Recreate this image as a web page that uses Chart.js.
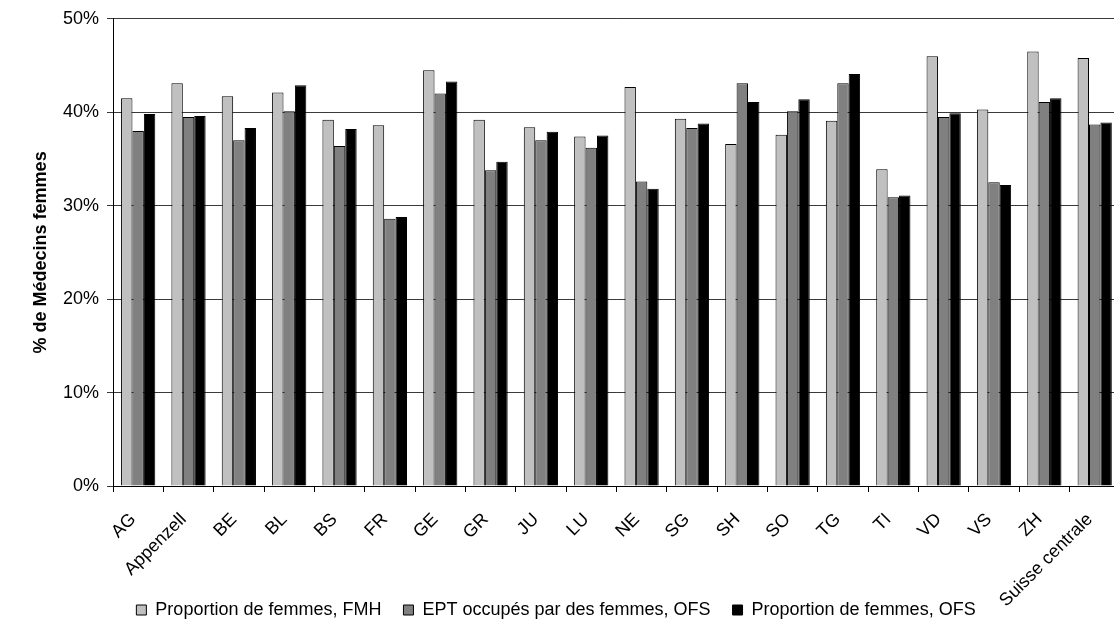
<!DOCTYPE html>
<html lang="fr">
<head>
<meta charset="utf-8">
<title>Médecins femmes par canton</title>
<script src="https://cdn.jsdelivr.net/npm/chart.js@4"></script>
<style>
  html, body { margin: 0; padding: 0; background: #fff; }
  /* the original plot runs a few pixels past the right edge of the picture */
  #wrap { width: 1114px; height: 621px; position: relative; overflow: hidden; }
  #chart { display: block; }
</style>
</head>
<body>
<div id="wrap"><canvas id="chart" width="1127" height="621"></canvas></div>
<script>
  const CANTONS = ["AG", "Appenzell", "BE", "BL", "BS", "FR", "GE", "GR", "JU", "LU",
    "NE", "SG", "SH", "SO", "TG", "TI", "VD", "VS", "ZH", "Suisse centrale"];

  const FMH = [41.5, 43.1, 41.7, 42.1, 39.2, 38.6, 44.5, 39.2, 38.4, 37.4,
    42.7, 39.3, 36.6, 37.6, 39.1, 33.9, 46.0, 40.3, 46.5, 45.8];
  const EPT_OFS = [38.0, 39.5, 37.0, 40.1, 36.4, 28.6, 42.0, 33.8, 37.0, 36.2,
    32.6, 38.3, 43.1, 40.1, 43.1, 30.9, 39.5, 32.5, 41.1, 38.7];
  const PROP_OFS = [39.8, 39.6, 38.3, 42.9, 38.2, 28.8, 43.3, 34.7, 37.9, 37.5,
    31.8, 38.8, 41.1, 41.4, 44.1, 31.1, 39.9, 32.2, 41.5, 38.9];

  const SERIES_LABELS = [
    "Proportion de femmes, FMH",
    "EPT occupés par des femmes, OFS",
    "Proportion de femmes, OFS",
  ];
  const Y_TICKS = [0, 10, 20, 30, 40, 50];

  const FONT = "'Liberation Sans', Arial, sans-serif";
  const FS = 18;

  function bars(label, data, color) {
    return {
      label,
      data,
      backgroundColor: color,
      borderColor: "#000",
      borderWidth: 1,
      borderSkipped: "bottom",
      categoryPercentage: 0.68,
      barPercentage: 1.0,
    };
  }

  // the last rotated label runs down beside the legend, so don't clip labels
  // to the x axis box; also nudge the legend a little lower and left
  const layoutTweaks = {
    id: "layoutTweaks",
    afterLayout(chart) {
      chart.scales.x.bottom = chart.height;
      const lg = chart.legend;
      if (lg) {
        lg.top += 8;
        lg.bottom += 8;
        lg.left -= 12;
        lg.right -= 12;
      }
    },
  };

  new Chart(document.getElementById("chart"), {
    type: "bar",
    data: {
      labels: CANTONS,
      datasets: [
        bars(SERIES_LABELS[0], FMH, "#c0c0c0"),
        bars(SERIES_LABELS[1], EPT_OFS, "#808080"),
        bars(SERIES_LABELS[2], PROP_OFS, "#000000"),
      ],
    },
    plugins: [layoutTweaks],
    options: {
      responsive: false,
      devicePixelRatio: 1,
      animation: false,
      layout: { padding: { left: 10, right: 1, top: 18, bottom: 0 } },
      plugins: {
        tooltip: { enabled: false },
        legend: {
          position: "bottom",
          labels: {
            color: "#000",
            font: { family: FONT, size: FS },
            boxWidth: 10,
            boxHeight: 10,
            padding: 22,
          },
        },
      },
      scales: {
        x: {
          afterFit: (scale) => {
            scale.height = 85;
          },
          grid: {
            display: true,
            offset: true,
            drawOnChartArea: false,
            drawTicks: true,
            tickLength: 6,
            color: "#000",
          },
          border: { display: true, color: "#000" },
          ticks: {
            color: "#000",
            font: { family: FONT, size: FS },
            maxRotation: 45,
            minRotation: 45,
            autoSkip: false,
            padding: 17,
            labelOffset: -5,
          },
        },
        y: {
          min: 0,
          max: 50,
          afterBuildTicks: (scale) => {
            scale.ticks = Y_TICKS.map((v) => ({ value: v }));
          },
          afterFit: (scale) => {
            scale.width = 103;
          },
          grid: {
            color: "#3a3a3a",
            tickLength: 6,
          },
          border: { display: true, color: "#000" },
          ticks: {
            color: "#000",
            font: { family: FONT, size: FS },
            callback: (v) => v + "%",
            padding: 8,
          },
          title: {
            display: true,
            text: "% de Médecins femmes",
            color: "#000",
            font: { family: FONT, size: FS, weight: "bold" },
            padding: { top: 20, bottom: 0 },
          },
        },
      },
    },
  });
</script>
</body>
</html>
